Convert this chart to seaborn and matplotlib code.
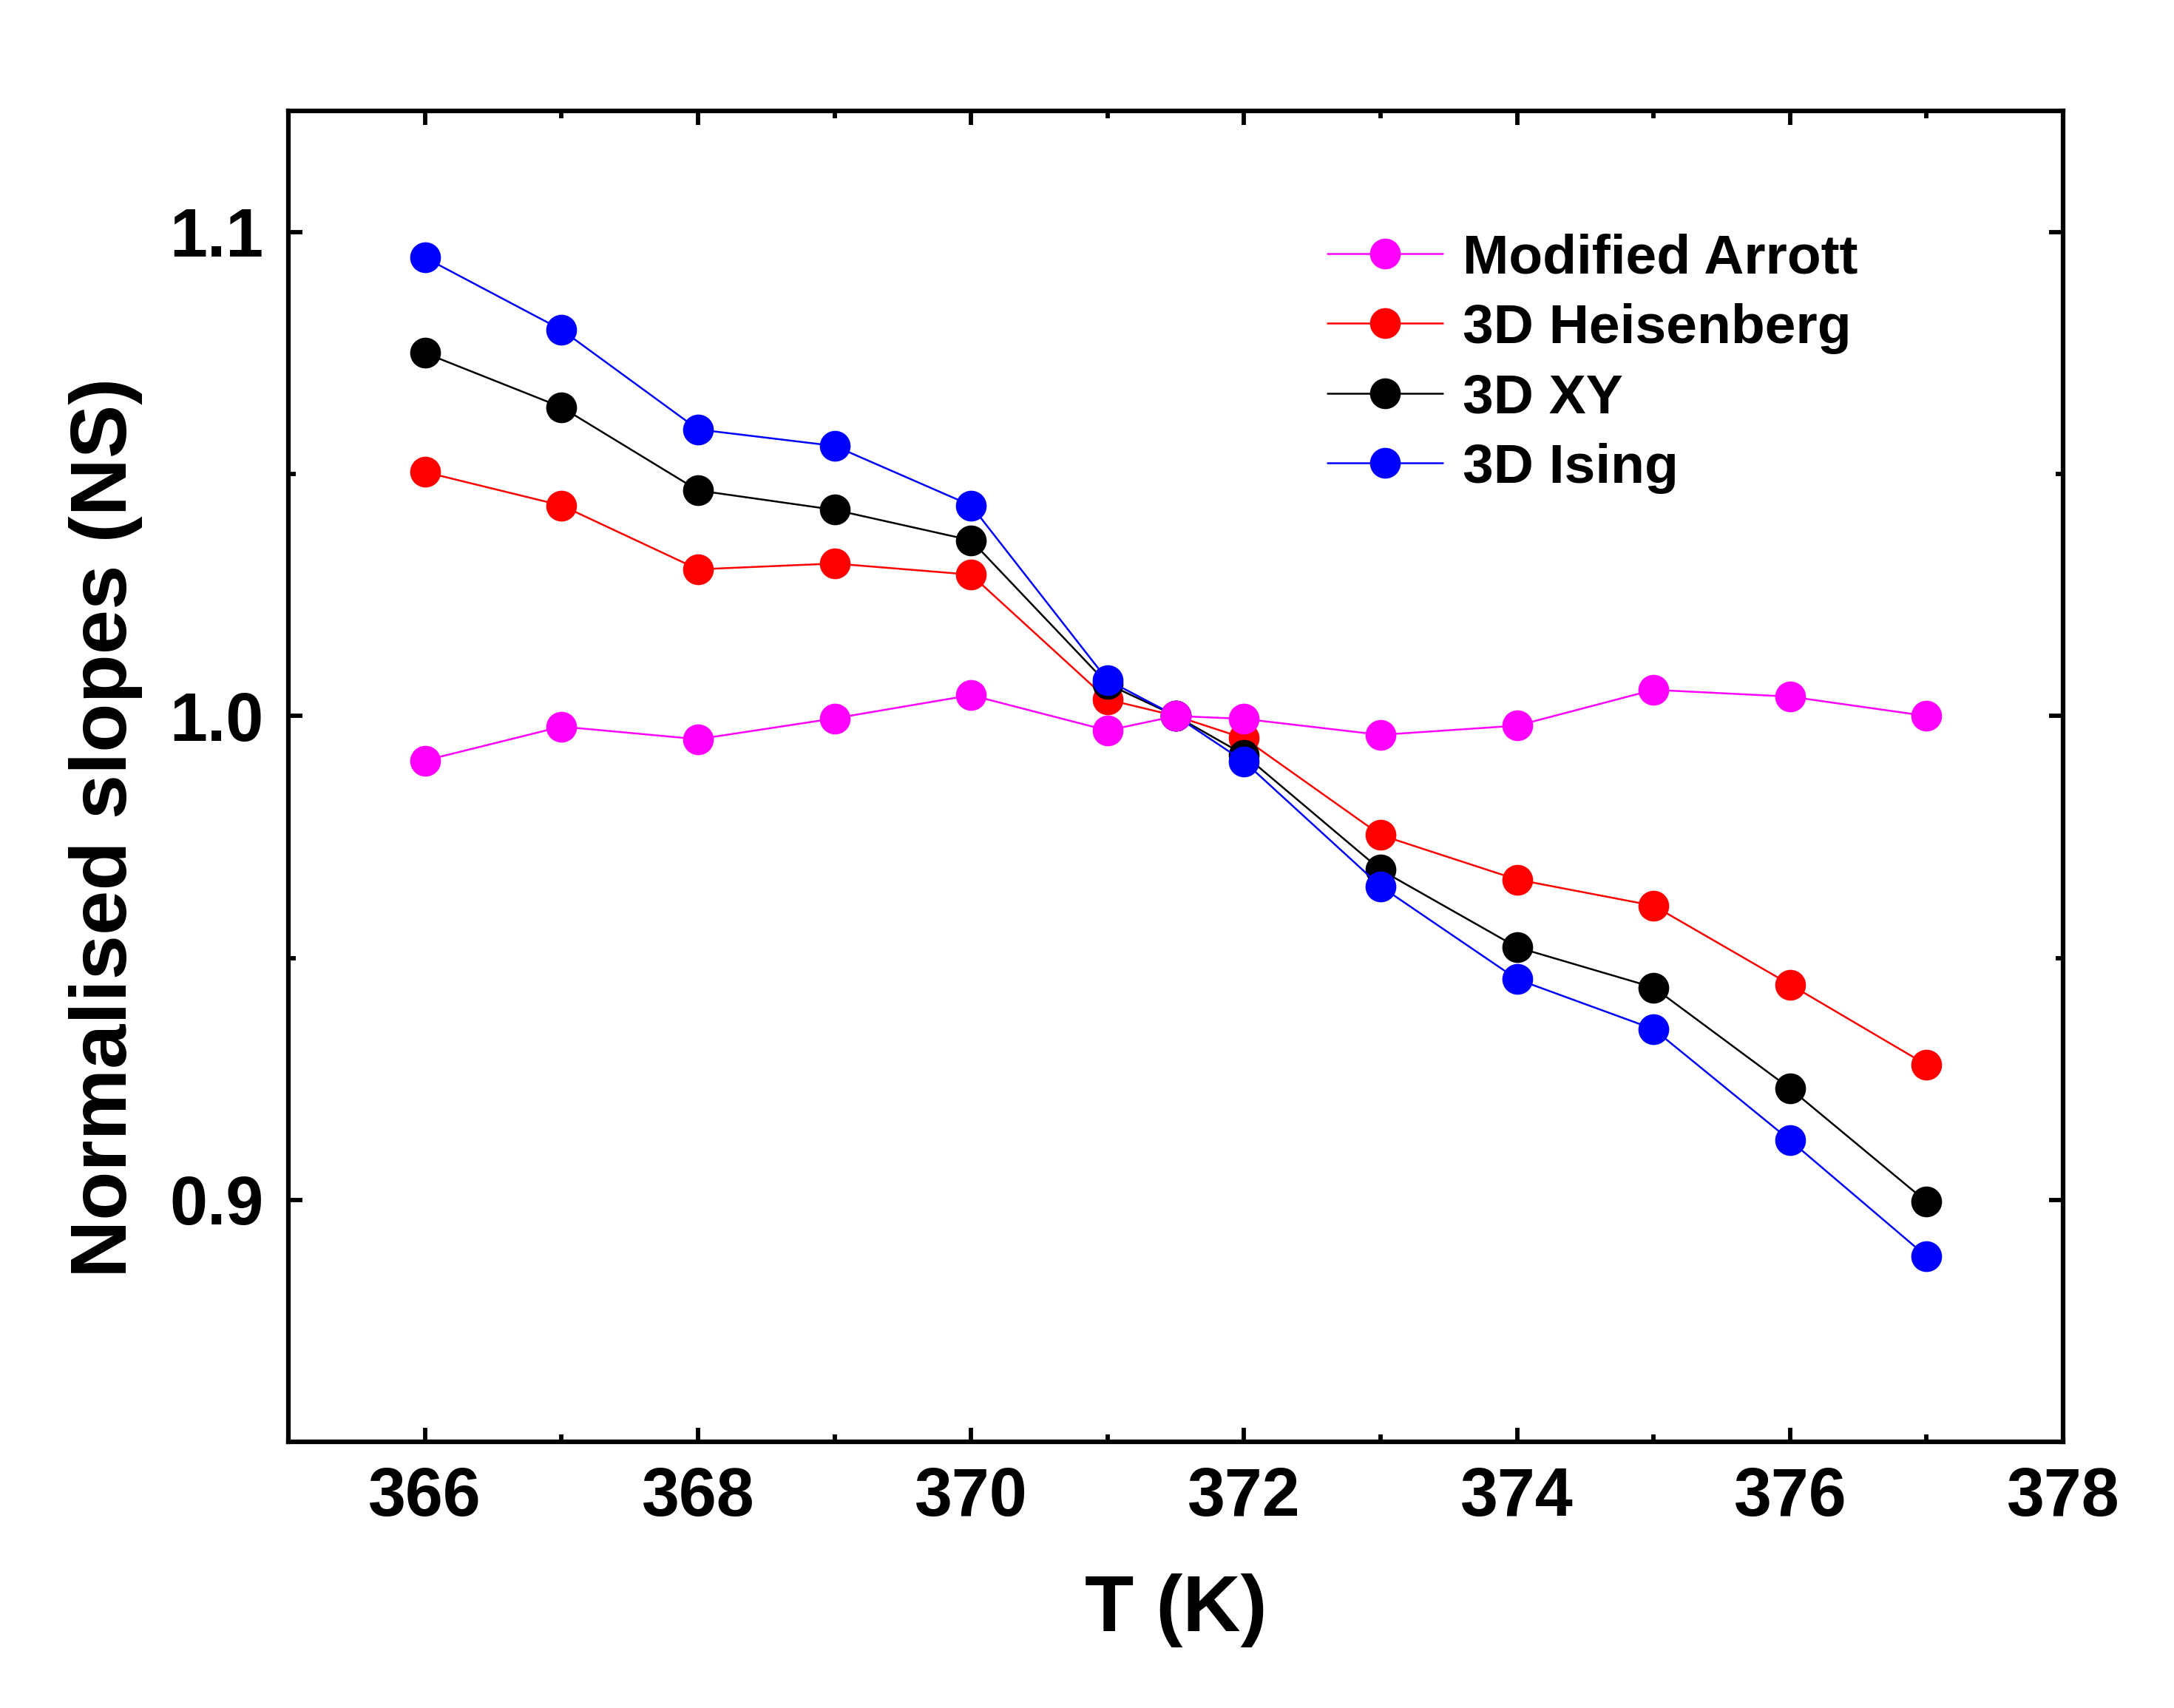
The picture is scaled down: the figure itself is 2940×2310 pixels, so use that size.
import matplotlib.pyplot as plt
import pandas as pd
import seaborn as sns
from matplotlib.ticker import MultipleLocator

# temperatures (K) with the normalisation point at 371.5 K
temps = [366, 367, 368, 369, 370, 371, 371.5, 372, 373, 374, 375, 376, 377]

arrott = [0.9908, 0.9978, 0.9952, 0.9995, 1.0043, 0.9970, 1.0, 0.9994, 0.9961,
          0.9980, 1.0054, 1.0040, 1.0000]
heisenberg = [1.0504, 1.0435, 1.0303, 1.0315, 1.0292, 1.0034, 1.0, 0.9954,
              0.9754, 0.9662, 0.9608, 0.9445, 0.9279]
xy = [1.0750, 1.0638, 1.0466, 1.0426, 1.0363, 1.0066, 1.0, 0.9920, 0.9682,
      0.9522, 0.9439, 0.9230, 0.8996]
ising = [1.0947, 1.0798, 1.0592, 1.0558, 1.0435, 1.0074, 1.0, 0.9906, 0.9648,
         0.9456, 0.9353, 0.9123, 0.8883]

series_names = ["Modified Arrott", "3D Heisenberg", "3D XY", "3D Ising"]
series_values = [arrott, heisenberg, xy, ising]
series_colors = ["#ff00ff", "#ff0000", "#000000", "#0000ff"]
draw_order = ["3D Heisenberg", "3D XY", "3D Ising", "Modified Arrott"]

sns.set_theme(style="ticks")
plt.rcParams["font.family"] = ["Liberation Sans", "DejaVu Sans"]
plt.rcParams["font.weight"] = "bold"
plt.rcParams["text.color"] = "black"
plt.rcParams["axes.labelcolor"] = "black"
plt.rcParams["xtick.color"] = "black"
plt.rcParams["ytick.color"] = "black"

frames = []
for name, values in zip(series_names, series_values):
    frames.append(pd.DataFrame({"T": temps, "NS": values, "model": name}))
data = pd.concat(frames, ignore_index=True)
palette = dict(zip(series_names, series_colors))

fig = plt.figure(figsize=(9.8, 7.7), dpi=300)
ax = fig.add_axes([0.1327, 0.1558, 0.8163, 0.7792])

for name in draw_order:
    sub = data[data["model"] == name]
    sns.lineplot(data=sub, x="T", y="NS", ax=ax, color=palette[name],
                 marker="o", markersize=10, markeredgewidth=0, linewidth=0.6,
                 label=name, sort=False, errorbar=None)

h, l = ax.get_legend_handles_labels()
lookup = dict(zip(l, h))
ax.legend([lookup[n] for n in series_names], series_names,
          loc="upper left", bbox_to_anchor=(0.573, 0.925), frameon=False,
          handlelength=2.08, handletextpad=0.35,
          labelspacing=0.34, borderaxespad=0,
          prop={"weight": "bold", "size": 18})

ax.set_xlim(365, 378)
ax.set_ylim(0.85, 1.125)
ax.xaxis.set_major_locator(MultipleLocator(2))
ax.xaxis.set_minor_locator(MultipleLocator(1))
ax.yaxis.set_minor_locator(MultipleLocator(0.05))
ax.set_yticks([0.9, 1.0, 1.1])
ax.set_yticklabels(["0.9", "1.0", "1.1"])

ax.tick_params(which="both", direction="in", top=True, right=True,
               width=1.4, colors="black")
ax.tick_params(which="major", length=4.5, labelsize=22, pad=8)
ax.tick_params(which="minor", length=2.3)
for lab in ax.get_xticklabels() + ax.get_yticklabels():
    lab.set_fontweight("bold")
for spine in ax.spines.values():
    spine.set_linewidth(1.5)
    spine.set_color("black")

ax.set_xlabel("T (K)", fontsize=26, fontweight="bold", labelpad=14)
ax.set_ylabel("Normalised slopes (NS)", fontsize=26, fontweight="bold")
ax.yaxis.set_label_coords(-0.082, 0.4615)

fig.savefig("out.png", dpi=300)
plt.close(fig)
